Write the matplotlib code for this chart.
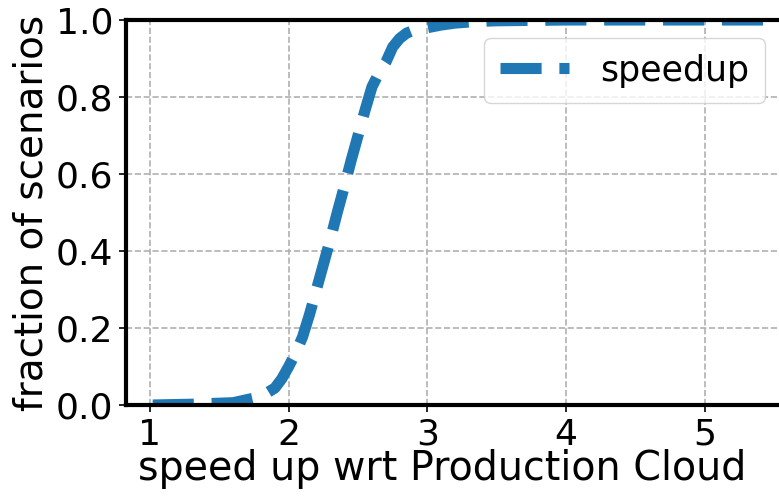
import matplotlib
matplotlib.use("Agg")
import matplotlib.pyplot as plt

speedup_x = [1.02, 1.3, 1.6, 1.8, 1.9, 1.95, 2.0, 2.05, 2.1, 2.15, 2.2, 2.25, 2.3, 2.35,
             2.4, 2.45, 2.5, 2.55, 2.6, 2.65, 2.7, 2.75, 2.8, 2.85, 2.9, 2.95, 3.0, 3.1,
             3.2, 3.35, 3.5, 4.0, 5.0, 6.0]
fraction_y = [0.0, 0.002, 0.006, 0.022, 0.044, 0.068, 0.10, 0.135, 0.177, 0.235, 0.30, 0.365,
              0.43, 0.50, 0.566, 0.635, 0.70, 0.765, 0.826, 0.862, 0.89, 0.93, 0.952, 0.966,
              0.973, 0.977, 0.98, 0.987, 0.992, 0.996, 0.998, 1.0, 1.0, 1.0]
xticks = [1, 2, 3, 4, 5]
yticks = [0.0, 0.2, 0.4, 0.6, 0.8, 1.0]

fig = plt.figure(figsize=(7.79, 4.98), dpi=100)
W, H = 779, 498
left_px, right_px, top_px, bottom_px = 126, 860, 20, 405
ax = fig.add_axes([left_px / W, 1 - bottom_px / H, (right_px - left_px) / W, (bottom_px - top_px) / H])

ppu = 138.7
x0 = 1 - (150 - left_px) / ppu
x1 = x0 + (right_px - left_px) / ppu
ax.plot(speedup_x, fraction_y, linestyle='--', color='#1f77b4', linewidth=8, label='speedup')
ax.set_xlim(x0, x1)
ax.set_ylim(0, 1)
ax.set_xticks(xticks)
ax.set_yticks(yticks)
ax.tick_params(labelsize=26, width=1.2, length=5, pad=4)
ax.grid(True, linestyle='--', color='#b0b0b0', linewidth=1.2)
for s in ax.spines.values():
    s.set_linewidth(3)
ax.set_xlabel('speed up wrt Production Cloud', fontsize=28.5)
ax.xaxis.set_label_coords((442 - left_px) / (right_px - left_px), -0.115)
ax.set_ylabel('fraction of scenarios', fontsize=28, labelpad=4)
ax.legend(loc='upper right', bbox_to_anchor=(765 / W, 1 - 38 / H), bbox_transform=fig.transFigure,
          borderaxespad=0, fontsize=25, handlelength=2.0, handletextpad=0.9, borderpad=0.45)
fig.savefig('out.png', dpi=100)
